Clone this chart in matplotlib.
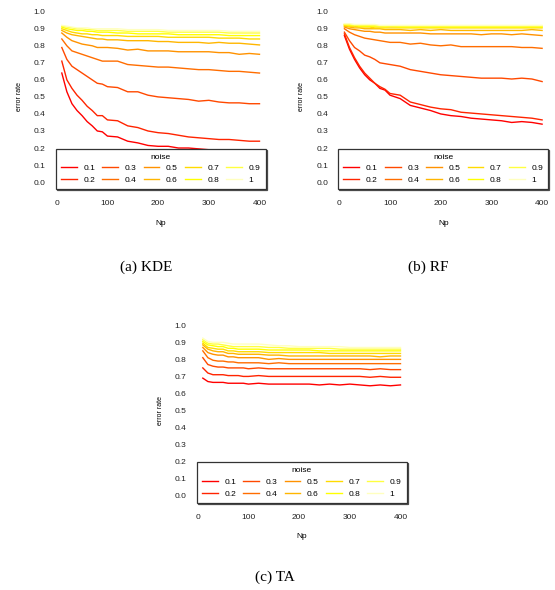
import matplotlib
matplotlib.use("Agg")
import matplotlib.pyplot as plt

plt.rcParams['font.family'] = ['Liberation Sans', 'DejaVu Sans']

Np = [10, 20, 30, 40, 50, 60, 70, 80, 90, 100, 120, 140, 160, 180, 200,
      220, 240, 260, 280, 300, 320, 340, 360, 380, 400]
noise = ['0.1', '0.2', '0.3', '0.4', '0.5', '0.6', '0.7', '0.8', '0.9', '1']
# R heat.colors(10)
heat = ['#FF0000', '#FF2400', '#FF4900', '#FF6D00', '#FF9200',
        '#FFB600', '#FFDB00', '#FFFF00', '#FFFF40', '#FFFFBF']

kde = [
    [0.64, 0.53, 0.46, 0.42, 0.39, 0.355, 0.33, 0.30, 0.295, 0.27, 0.265, 0.24, 0.23, 0.215, 0.21, 0.21, 0.20, 0.20, 0.195, 0.19, 0.19, 0.19, 0.185, 0.185, 0.185],
    [0.71, 0.60, 0.55, 0.51, 0.48, 0.445, 0.42, 0.39, 0.39, 0.365, 0.36, 0.33, 0.32, 0.30, 0.29, 0.285, 0.275, 0.265, 0.26, 0.255, 0.25, 0.25, 0.245, 0.24, 0.24],
    [0.79, 0.72, 0.68, 0.66, 0.64, 0.62, 0.60, 0.58, 0.575, 0.56, 0.555, 0.53, 0.53, 0.51, 0.50, 0.495, 0.49, 0.485, 0.475, 0.48, 0.47, 0.465, 0.465, 0.46, 0.46],
    [0.84, 0.80, 0.77, 0.76, 0.75, 0.74, 0.73, 0.72, 0.71, 0.71, 0.71, 0.69, 0.685, 0.68, 0.675, 0.675, 0.67, 0.665, 0.66, 0.66, 0.655, 0.65, 0.65, 0.645, 0.64],
    [0.875, 0.85, 0.83, 0.82, 0.81, 0.805, 0.80, 0.79, 0.79, 0.79, 0.785, 0.775, 0.78, 0.77, 0.77, 0.77, 0.765, 0.765, 0.765, 0.765, 0.76, 0.76, 0.75, 0.755, 0.75],
    [0.89, 0.875, 0.865, 0.86, 0.855, 0.85, 0.845, 0.84, 0.84, 0.835, 0.835, 0.83, 0.83, 0.83, 0.825, 0.825, 0.82, 0.82, 0.82, 0.815, 0.82, 0.815, 0.815, 0.81, 0.805],
    [0.90, 0.89, 0.88, 0.875, 0.87, 0.87, 0.865, 0.865, 0.86, 0.86, 0.86, 0.855, 0.855, 0.855, 0.855, 0.85, 0.85, 0.85, 0.85, 0.85, 0.845, 0.845, 0.845, 0.84, 0.84],
    [0.91, 0.90, 0.895, 0.89, 0.89, 0.885, 0.885, 0.88, 0.88, 0.88, 0.875, 0.875, 0.87, 0.87, 0.87, 0.87, 0.865, 0.865, 0.865, 0.865, 0.865, 0.86, 0.86, 0.86, 0.86],
    [0.915, 0.91, 0.905, 0.90, 0.90, 0.895, 0.895, 0.89, 0.89, 0.89, 0.89, 0.885, 0.885, 0.885, 0.885, 0.88, 0.88, 0.88, 0.88, 0.88, 0.88, 0.875, 0.875, 0.875, 0.875],
    [0.92, 0.915, 0.91, 0.905, 0.905, 0.905, 0.90, 0.90, 0.90, 0.90, 0.90, 0.895, 0.895, 0.895, 0.895, 0.89, 0.89, 0.89, 0.89, 0.89, 0.89, 0.885, 0.885, 0.885, 0.885],
]

rf = [
    [0.86, 0.78, 0.72, 0.67, 0.63, 0.60, 0.58, 0.55, 0.54, 0.51, 0.49, 0.45, 0.435, 0.42, 0.40, 0.39, 0.385, 0.375, 0.37, 0.365, 0.36, 0.35, 0.355, 0.35, 0.34],
    [0.87, 0.79, 0.73, 0.68, 0.64, 0.61, 0.58, 0.56, 0.545, 0.52, 0.51, 0.47, 0.455, 0.44, 0.43, 0.425, 0.41, 0.405, 0.40, 0.395, 0.39, 0.385, 0.38, 0.375, 0.365],
    [0.88, 0.83, 0.79, 0.77, 0.745, 0.735, 0.72, 0.70, 0.695, 0.69, 0.68, 0.66, 0.65, 0.64, 0.63, 0.625, 0.62, 0.615, 0.61, 0.61, 0.61, 0.605, 0.61, 0.605, 0.59],
    [0.90, 0.88, 0.865, 0.855, 0.845, 0.84, 0.835, 0.83, 0.825, 0.82, 0.82, 0.81, 0.815, 0.805, 0.80, 0.805, 0.795, 0.795, 0.795, 0.795, 0.795, 0.795, 0.79, 0.79, 0.785],
    [0.91, 0.90, 0.895, 0.89, 0.885, 0.885, 0.88, 0.88, 0.875, 0.875, 0.875, 0.875, 0.875, 0.87, 0.87, 0.87, 0.87, 0.87, 0.865, 0.87, 0.87, 0.865, 0.87, 0.865, 0.86],
    [0.915, 0.91, 0.905, 0.905, 0.90, 0.90, 0.90, 0.90, 0.895, 0.895, 0.895, 0.89, 0.895, 0.89, 0.895, 0.89, 0.89, 0.89, 0.89, 0.89, 0.89, 0.89, 0.89, 0.895, 0.89],
    [0.92, 0.915, 0.915, 0.91, 0.91, 0.91, 0.905, 0.905, 0.905, 0.905, 0.905, 0.905, 0.905, 0.905, 0.905, 0.905, 0.905, 0.905, 0.905, 0.905, 0.905, 0.905, 0.905, 0.905, 0.905],
    [0.925, 0.92, 0.92, 0.915, 0.915, 0.915, 0.915, 0.915, 0.91, 0.915, 0.91, 0.91, 0.91, 0.91, 0.91, 0.91, 0.91, 0.91, 0.91, 0.91, 0.91, 0.91, 0.91, 0.91, 0.91],
    [0.925, 0.925, 0.92, 0.92, 0.92, 0.92, 0.92, 0.915, 0.915, 0.915, 0.915, 0.915, 0.915, 0.915, 0.915, 0.915, 0.915, 0.915, 0.915, 0.915, 0.915, 0.915, 0.915, 0.915, 0.915],
    [0.93, 0.93, 0.925, 0.925, 0.925, 0.925, 0.925, 0.92, 0.92, 0.92, 0.92, 0.92, 0.92, 0.92, 0.92, 0.92, 0.92, 0.92, 0.92, 0.92, 0.92, 0.92, 0.92, 0.92, 0.92],
]

ta = [
    [0.69, 0.67, 0.665, 0.665, 0.665, 0.66, 0.66, 0.66, 0.66, 0.655, 0.66, 0.655, 0.655, 0.655, 0.655, 0.655, 0.65, 0.655, 0.65, 0.655, 0.65, 0.645, 0.65, 0.645, 0.65],
    [0.75, 0.72, 0.71, 0.71, 0.71, 0.705, 0.705, 0.705, 0.70, 0.70, 0.705, 0.70, 0.70, 0.70, 0.70, 0.70, 0.70, 0.70, 0.70, 0.70, 0.70, 0.695, 0.70, 0.695, 0.695],
    [0.81, 0.77, 0.76, 0.755, 0.755, 0.75, 0.75, 0.75, 0.75, 0.745, 0.75, 0.745, 0.745, 0.745, 0.745, 0.745, 0.745, 0.745, 0.745, 0.745, 0.745, 0.74, 0.745, 0.74, 0.74],
    [0.85, 0.81, 0.795, 0.79, 0.79, 0.785, 0.785, 0.78, 0.78, 0.78, 0.78, 0.775, 0.78, 0.775, 0.775, 0.775, 0.775, 0.775, 0.775, 0.775, 0.775, 0.775, 0.775, 0.775, 0.775],
    [0.87, 0.84, 0.83, 0.825, 0.825, 0.815, 0.815, 0.81, 0.81, 0.81, 0.81, 0.80, 0.805, 0.80, 0.80, 0.80, 0.80, 0.80, 0.80, 0.80, 0.80, 0.80, 0.80, 0.80, 0.80],
    [0.885, 0.86, 0.85, 0.845, 0.845, 0.835, 0.835, 0.83, 0.83, 0.83, 0.83, 0.825, 0.825, 0.82, 0.82, 0.82, 0.82, 0.82, 0.82, 0.82, 0.82, 0.82, 0.815, 0.82, 0.82],
    [0.895, 0.87, 0.865, 0.86, 0.86, 0.85, 0.85, 0.845, 0.845, 0.845, 0.845, 0.84, 0.84, 0.84, 0.84, 0.84, 0.84, 0.835, 0.835, 0.835, 0.835, 0.835, 0.835, 0.835, 0.835],
    [0.905, 0.885, 0.88, 0.875, 0.875, 0.865, 0.865, 0.86, 0.86, 0.86, 0.86, 0.855, 0.855, 0.855, 0.855, 0.855, 0.85, 0.85, 0.85, 0.85, 0.85, 0.85, 0.85, 0.85, 0.85],
    [0.915, 0.895, 0.89, 0.89, 0.885, 0.88, 0.875, 0.875, 0.875, 0.875, 0.875, 0.87, 0.87, 0.865, 0.865, 0.865, 0.865, 0.865, 0.86, 0.86, 0.86, 0.86, 0.86, 0.86, 0.86],
    [0.925, 0.905, 0.90, 0.90, 0.90, 0.895, 0.89, 0.89, 0.89, 0.89, 0.89, 0.885, 0.88, 0.88, 0.875, 0.875, 0.875, 0.875, 0.875, 0.87, 0.87, 0.87, 0.87, 0.87, 0.87],
]

W, H = 555, 590
fig = plt.figure(figsize=(W / 100, H / 100), dpi=100)


def panel(left, top, data, caption, cap_x, cap_y):
    # axes box in pixels, R-style 4% padding around the data range
    ax = fig.add_axes([left / W, 1 - (top + 184) / H, 213.5 / W, 184 / H])
    for vals, c, lab in zip(data, heat, noise):
        ax.plot(Np, vals, color=c, lw=1.0, label=lab)
    ax.set_xlim(-5.6, 415.6)
    ax.set_ylim(-0.04, 1.04)
    ax.set_xticks([0, 100, 200, 300, 400])
    ax.set_yticks([i / 10 for i in range(11)])
    ax.set_yticklabels(['%.1f' % (i / 10) for i in range(11)])
    for s in ax.spines.values():
        s.set_visible(False)
    ax.tick_params(length=0, labelsize=6, colors='#222222')
    ax.tick_params(axis='y', pad=6)
    ax.tick_params(axis='x', pad=8)
    ax.set_xlabel('Np', fontsize=6, labelpad=9)
    ax.set_ylabel('error rate', fontsize=5, labelpad=8)
    leg = ax.legend(loc='lower center', ncol=5, title='noise', fontsize=6,
                    title_fontsize=6, borderaxespad=0, frameon=True,
                    fancybox=False,
                    shadow={'color': '0.3', 'alpha': 1, 'ox': 0.8, 'oy': -0.8},
                    handlelength=1.9, handletextpad=0.8, columnspacing=0.85,
                    labelspacing=0.45, borderpad=0.6)
    leg.get_frame().set_edgecolor('#333333')
    leg.get_frame().set_linewidth(0.9)
    fig.text(cap_x / W, 1 - cap_y / H, caption, family='Liberation Serif',
             fontsize=11, ha='center', va='center')


panel(53.9, 4.9, kde, '(a) KDE', 146, 267)
panel(336.5, 4.9, rf, '(b) RF', 428, 267)
panel(194.9, 318.5, ta, '(c) TA', 275, 577)

fig.savefig('out.png', dpi=100)
